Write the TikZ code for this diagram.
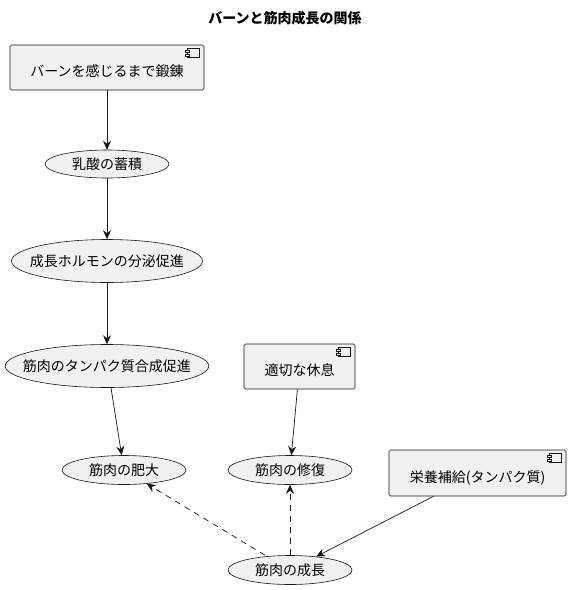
\documentclass[tikz,border=0pt]{standalone}
\usepackage{fontspec}
\setmainfont{Noto Sans CJK JP}
\usetikzlibrary{shapes.geometric, arrows.meta, positioning}

\definecolor{boxfill}{HTML}{F1F1F1}
\definecolor{boxline}{HTML}{181818}

\tikzset{
	compbox/.style={rectangle,draw=boxline,fill=boxfill,rounded corners=1.5pt,line width=0.6pt,
		font=\fontsize{14}{16}\selectfont,text height=22pt,text depth=4pt,inner ysep=9.5pt,align=center},
	usecase/.style={ellipse,draw=boxline,fill=boxfill,line width=0.6pt,inner xsep=-12pt,inner ysep=0pt,
		font=\fontsize{14}{16}\selectfont},
	arr/.style={draw=boxline,line width=0.7pt,-{Stealth[length=9pt,width=8pt,inset=3pt]}},
}

% small component icon at the top right of a box
\newcommand{\compicon}[1]{%
	\draw[boxline,line width=0.5pt,fill=boxfill] ([xshift=-17pt,yshift=-4pt]#1.north east) rectangle ++(12,-9);
	\draw[boxline,line width=0.5pt,fill=boxfill] ([xshift=-19pt,yshift=-6pt]#1.north east) rectangle ++(4,-2);
	\draw[boxline,line width=0.5pt,fill=boxfill] ([xshift=-19pt,yshift=-9.5pt]#1.north east) rectangle ++(4,-2);
}

\begin{document}
\begin{tikzpicture}[x=1pt,y=1pt,node distance=97pt]
	\useasboundingbox (0,0) rectangle (570,-590);
	\fill[white] (0,0) rectangle (570,-590);

	\node[font=\fontsize{14}{16}\selectfont\bfseries] (title) at (285,-18) {バーンと筋肉成長の関係};

	\node[compbox,minimum width=194pt,minimum height=45pt] (burn) at (107,-67.5) {バーンを感じるまで鍛錬};
	\compicon{burn}

	\node[usecase,minimum width=124pt,minimum height=28pt] (lactic) at (107,-164) {乳酸の蓄積};
	\node[usecase,minimum width=191pt,minimum height=43pt, below of=lactic] (hormone) {成長ホルモンの分泌促進};
	\node[usecase,minimum width=203pt,minimum height=43pt, below of=hormone, yshift=-8pt] (synth) {筋肉のタンパク質合成促進};

	\node[usecase,minimum width=124pt,minimum height=29pt] (hyper) at (124,-470) {筋肉の肥大};
	\node[usecase,minimum width=124pt,minimum height=29pt] (repair) at (290,-470) {筋肉の修復};
	\node[usecase,minimum width=124pt,minimum height=29pt, below of=repair, yshift=-3pt] (growth) {筋肉の成長};

	\node[compbox,minimum width=111pt,minimum height=45pt] (rest) at (299.5,-366.5) {適切な休息};
	\compicon{rest}
	\node[compbox,minimum width=177pt,minimum height=46pt] (food) at (477.5,-473) {栄養補給(タンパク質)};
	\compicon{food}

	\draw[arr] (burn) -- (lactic);
	\draw[arr] (lactic) -- (hormone);
	\draw[arr] (hormone) -- (synth);
	\draw[arr] ([xshift=4pt]synth.south) -- (hyper);
	\draw[arr] (rest) -- (repair);
	\draw[arr] ([xshift=-44pt]food.south) -- (growth);

	\draw[arr,dash pattern=on 6pt off 5pt] ([xshift=-25pt]growth.north) -- (hyper);
	\draw[arr,dash pattern=on 6pt off 5pt] (growth.north) -- (repair.south);
\end{tikzpicture}
\end{document}
